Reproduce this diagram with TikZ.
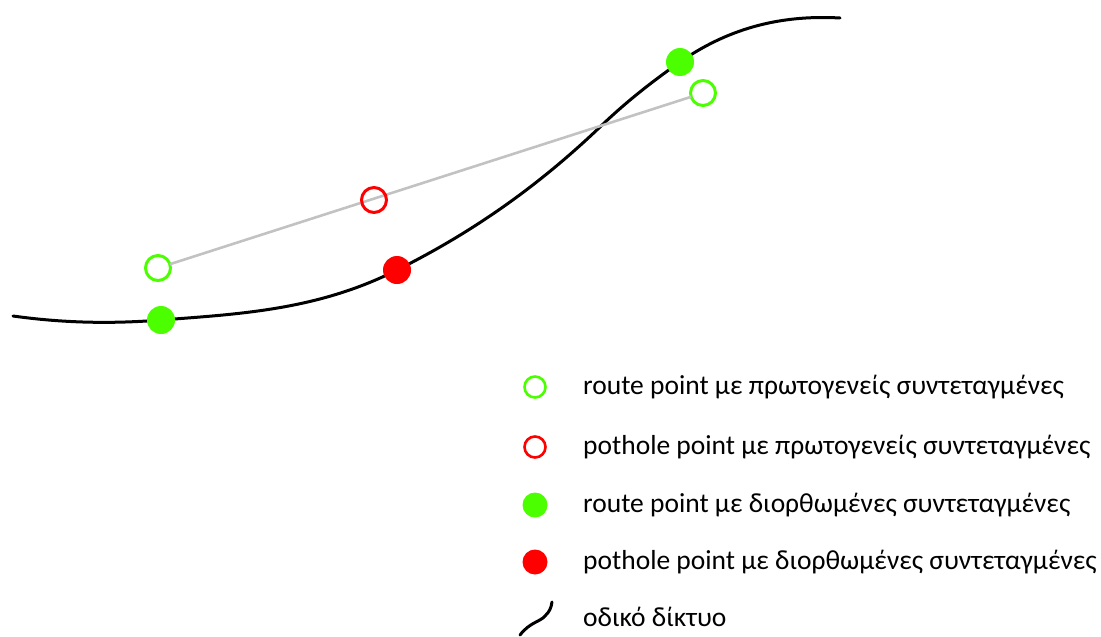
\documentclass[tikz,border=0pt]{standalone}
\usepackage{fontspec}
\setmainfont{Carlito}
\usepackage{tikz}
\usetikzlibrary{shapes,calc}
\definecolor{routegreen}{RGB}{76,255,0}
\definecolor{holered}{RGB}{255,0,0}
\tikzstyle{road}=[line width=3pt, black, line cap=round]
\tikzstyle{rawline}=[line width=2.6pt, black!24]
\tikzstyle{rawG}=[circle, draw=routegreen, fill=white, minimum size=25pt, line width=3pt, inner sep=0pt, outer sep=0pt]
\tikzstyle{rawR}=[circle, draw=holered, minimum size=25pt, line width=3pt, inner sep=0pt, outer sep=0pt]
\tikzstyle{fixG}=[circle, fill=routegreen, minimum size=28pt, inner sep=0pt, outer sep=0pt]
\tikzstyle{fixR}=[circle, fill=holered, minimum size=28pt, inner sep=0pt, outer sep=0pt]
\tikzstyle{legtext}=[anchor=west, inner sep=0pt, font=\fontsize{27.5}{32}\selectfont]

\begin{document}
\begin{tikzpicture}[x=1pt, y=-1pt]
      \useasboundingbox (0,0) rectangle (1101,637);
      % road network
      \draw[road] (13,316) .. controls (63,323) and (111,324) .. (161,320)
                  .. controls (240,314) and (318,310) .. (397,270)
                  .. controls (465,236) and (532,192) .. (600,127)
                  .. controls (627,101) and (653,81) .. (680,62)
                  .. controls (733,25) and (787,15) .. (840,18);
      % raw and corrected points
      \node(r1) [rawG] at (158,268){};
      \node(r2) [rawG] at (703,93){};
      \draw[rawline] (r1) -- (r2);
      \node(p1) [rawR] at (374,200){};
      \node(g1) [fixG] at (161,320){};
      \node(g2) [fixG] at (680,62){};
      \node(h1) [fixR] at (397,270){};
      % legend
      \node(l1) [rawG, minimum size=21pt, line width=2.6pt] at (535,387){};
      \node(l2) [rawR, minimum size=21pt, line width=2.6pt] at (535,447){};
      \node(l3) [fixG, minimum size=25pt] at (535,505){};
      \node(l4) [fixR, minimum size=25pt] at (535,562){};
      \draw[road] (520,635) .. controls (530,622) and (540,622) .. (545,616) .. controls (550,611) and (551,608) .. (552,602);
      \node(t1) [legtext] at (583,387) {route point με πρωτογενείς συντεταγμένες};
      \node(t2) [legtext] at (583,447) {pothole point με πρωτογενείς συντεταγμένες};
      \node(t3) [legtext] at (583,505) {route point με διορθωμένες συντεταγμένες};
      \node(t4) [legtext] at (583,562) {pothole point με διορθωμένες συντεταγμένες};
      \node(t5) [legtext] at (583,617) {οδικό δίκτυο};
    \end{tikzpicture}
\end{document}
